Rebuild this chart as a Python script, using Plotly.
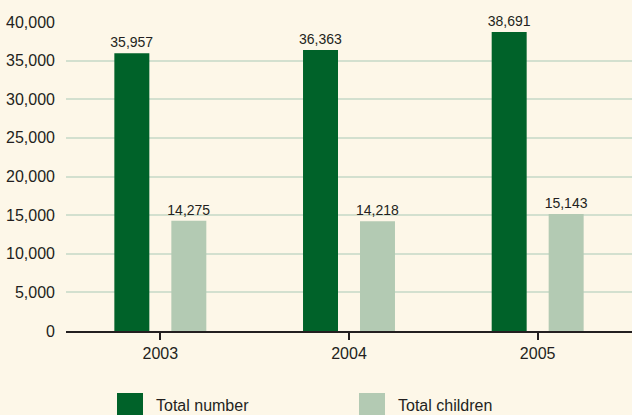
import plotly.graph_objects as go

years = ["2003", "2004", "2005"]
total_number = [35957, 36363, 38691]
total_children = [14275, 14218, 15143]
series_names = ["Total number", "Total children"]
y_ticks = [0, 5000, 10000, 15000, 20000, 25000, 30000, 35000, 40000]

DARK = "#006229"
LIGHT = "#b3cab3"
BG = "#fdf7e8"
TXT = "#231f20"
FONT = "Liberation Sans, Arial, sans-serif"

fig = go.Figure()
for name, vals, col in [(series_names[0], total_number, DARK), (series_names[1], total_children, LIGHT)]:
    fig.add_trace(go.Bar(
        x=years, y=vals, name=name, marker=dict(color=col, line=dict(width=0)),
        text=[f"{v:,}" for v in vals], textposition="outside", cliponaxis=False,
        constraintext="none",
        textfont=dict(family=FONT, size=14, color=TXT), showlegend=False,
    ))

fig.update_layout(
    width=632, height=415,
    margin=dict(l=66, r=0, t=22, b=84),
    paper_bgcolor=BG, plot_bgcolor=BG,
    barmode="group", bargap=0.396, bargroupgap=0.386,
    font=dict(family=FONT, color=TXT),
    xaxis=dict(
        showgrid=False, showline=True, linecolor=TXT, linewidth=2,
        ticks="outside", ticklen=7, tickwidth=2, tickcolor=TXT,
        tickfont=dict(family=FONT, size=16, color=TXT),
    ),
    yaxis=dict(
        range=[0, 40000], tickvals=y_ticks, ticktext=[f"{v:,}" for v in y_ticks],
        showgrid=True, gridcolor="#d3e0cf", gridwidth=1.5, zeroline=False,
        showline=False, ticks="", ticklabelstandoff=10,
        tickfont=dict(family=FONT, size=16, color=TXT),
    ),
)

# legend swatches (paper coordinates)
legend_items = [(series_names[0], DARK, 117), (series_names[1], LIGHT, 359)]
for name, col, px in legend_items:
    x0 = (px - 66) / 566
    x1 = (px + 26 - 66) / 566
    fig.add_shape(type="rect", xref="paper", yref="paper",
                  x0=x0, x1=x1, y0=(331 - 420) / 309, y1=(331 - 393) / 309,
                  fillcolor=col, line=dict(width=0))
    fig.add_annotation(xref="paper", yref="paper", x=(px + 37 - 66) / 566,
                       y=(331 - 405) / 309, text=name, showarrow=False,
                       xanchor="left", yanchor="middle",
                       font=dict(family=FONT, size=16, color=TXT))

fig.write_html(
    "out.html",
    config={"displayModeBar": False},
    post_script="document.body.style.margin='0';document.body.style.background='%s';" % BG,
)
